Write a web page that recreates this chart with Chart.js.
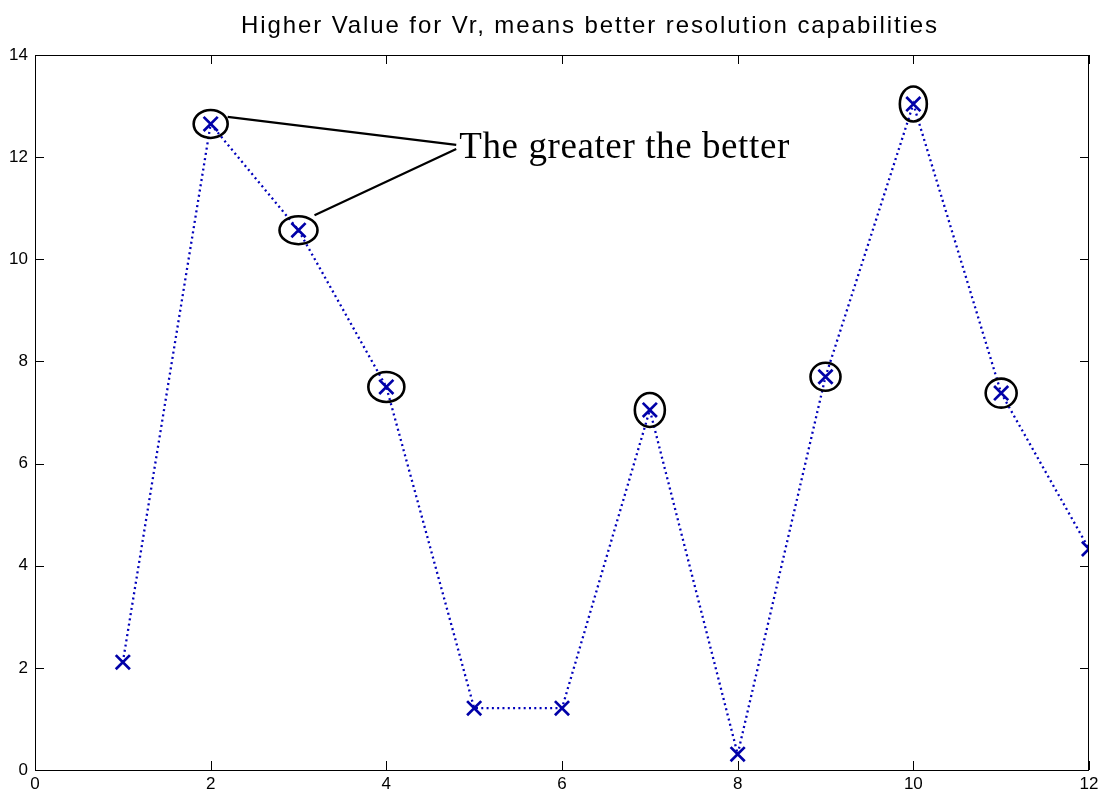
<!DOCTYPE html>
<html>
<head>
<meta charset="utf-8">
<title>Vr</title>
<script src="https://cdn.jsdelivr.net/npm/chart.js@4.4.1/dist/chart.umd.min.js"></script>
<style>
  html, body { margin: 0; padding: 0; background: #fff; }
  #wrap { width: 1108px; height: 801px; position: relative; }
</style>
</head>
<body>
<div id="wrap"><canvas id="vrChart"></canvas></div>
<script>

/******************** Data ********************/

var xValues = [1, 2, 3, 4, 5, 6, 7, 8, 9, 10, 11, 12];
var vrValues = [2.11, 12.65, 10.57, 7.50, 1.21, 1.21, 7.05, 0.31, 7.70, 13.04, 7.38, 4.33];
var circledX = [2, 3, 4, 7, 9, 10, 11];
var xTicks = [0, 2, 4, 6, 8, 10, 12];
var yTicks = [0, 2, 4, 6, 8, 10, 12, 14];
var titleText = "Higher Value for Vr, means better resolution capabilities";
var noteText = "The greater the better";
var noteFrom = [2, 3];   // leader lines start at these points

// ellipse half sizes (px) around the circled points
var ringSize = {2: [17, 14], 3: [19, 14], 4: [18, 15], 7: [15, 17], 9: [15, 14], 10: [13.5, 17.5], 11: [15.5, 14.5]};

var points = xValues.map(function(x, i) { return {x: x, y: vrValues[i]}; });

/******************** Extra drawing ********************/

var matlabAxes = {
  id: "matlabAxes",
  afterDatasetsDraw: function(chart) {
    var ctx = chart.ctx;
    var a = chart.chartArea;
    var xs = chart.scales.x, ys = chart.scales.y;
    var tl = 9;

    ctx.save();
    // box and inward ticks on all four sides
    ctx.strokeStyle = "#000";
    ctx.lineWidth = 1;
    ctx.strokeRect(a.left + 0.5, a.top + 0.5, a.right - a.left - 1, a.bottom - a.top);
    ctx.beginPath();
    xTicks.forEach(function(v) {
      var px = Math.round(xs.getPixelForValue(v)) + 0.5;
      ctx.moveTo(px, a.bottom); ctx.lineTo(px, a.bottom - tl);
      ctx.moveTo(px, a.top); ctx.lineTo(px, a.top + tl);
    });
    yTicks.forEach(function(v) {
      var py = Math.round(ys.getPixelForValue(v)) + 0.5;
      ctx.moveTo(a.left, py); ctx.lineTo(a.left + tl, py);
      ctx.moveTo(a.right, py); ctx.lineTo(a.right - tl, py);
    });
    ctx.stroke();

    // rings round the good points
    ctx.lineWidth = 2.6;
    circledX.forEach(function(x) {
      var px = xs.getPixelForValue(x);
      var py = ys.getPixelForValue(vrValues[x - 1]);
      var r = ringSize[x];
      ctx.beginPath();
      ctx.ellipse(px, py, r[0], r[1], 0, 0, Math.PI * 2);
      ctx.stroke();
    });

    // note with leader lines
    var tx = xs.getPixelForValue(4.83);
    var ty = ys.getPixelForValue(12.2);
    var p2x = xs.getPixelForValue(noteFrom[0]), p2y = ys.getPixelForValue(vrValues[noteFrom[0] - 1]);
    var p3x = xs.getPixelForValue(noteFrom[1]), p3y = ys.getPixelForValue(vrValues[noteFrom[1] - 1]);
    ctx.lineWidth = 2.2;
    ctx.beginPath();
    ctx.moveTo(p2x + 17, p2y - 7); ctx.lineTo(tx - 3, ty - 2);
    ctx.moveTo(p3x + 16, p3y - 15); ctx.lineTo(tx - 3, ty + 2);
    ctx.stroke();
    ctx.fillStyle = "#000";
    ctx.font = "37px 'Liberation Serif', serif";
    ctx.letterSpacing = "0.6px";
    ctx.textAlign = "left";
    ctx.textBaseline = "alphabetic";
    ctx.fillText(noteText, tx, ty + 11);

    // title
    ctx.font = "24px 'Liberation Sans', Arial, sans-serif";
    ctx.letterSpacing = "1.9px";
    ctx.textAlign = "center";
    ctx.textBaseline = "middle";
    ctx.fillText(titleText, 590, 26);
    ctx.restore();
  }
};

/******************** Chart ********************/

new Chart("vrChart", {
  type: "scatter",
  data: {
    datasets: [{
      data: points,
      showLine: true,
      borderColor: "#0000bb",
      borderWidth: 2.3,
      borderDash: [2, 3.3],
      pointStyle: "crossRot",
      pointRadius: 10,
      pointBorderWidth: 2.7,
      pointBorderColor: "#0000a8",
      pointBackgroundColor: "#0000a8"
    }]
  },
  options: {
    responsive: true,
    maintainAspectRatio: false,
    animation: false,
    layout: { padding: { top: 55, right: 19, left: 0, bottom: 0 } },
    plugins: {
      legend: { display: false },
      tooltip: { enabled: false },
      title: { display: false }
    },
    scales: {
      x: {
        type: "linear",
        min: 0,
        max: 12,
        afterFit: function(scale) { scale.height = 31; },
        afterBuildTicks: function(scale) { scale.ticks = xTicks.map(function(v) { return {value: v}; }); },
        grid: { display: false, drawTicks: false },
        border: { display: false },
        ticks: {
          autoSkip: false,
          maxRotation: 0,
          padding: 4,
          color: "#000",
          font: { family: "'Liberation Sans', Arial, sans-serif", size: 17 }
        }
      },
      y: {
        type: "linear",
        min: 0,
        max: 14,
        afterFit: function(scale) { scale.width = 35; },
        afterBuildTicks: function(scale) { scale.ticks = yTicks.map(function(v) { return {value: v}; }); },
        grid: { display: false, drawTicks: false },
        border: { display: false },
        ticks: {
          autoSkip: false,
          padding: 7,
          color: "#000",
          font: { family: "'Liberation Sans', Arial, sans-serif", size: 17 }
        }
      }
    }
  },
  plugins: [matlabAxes]
});
</script>
</body>
</html>
